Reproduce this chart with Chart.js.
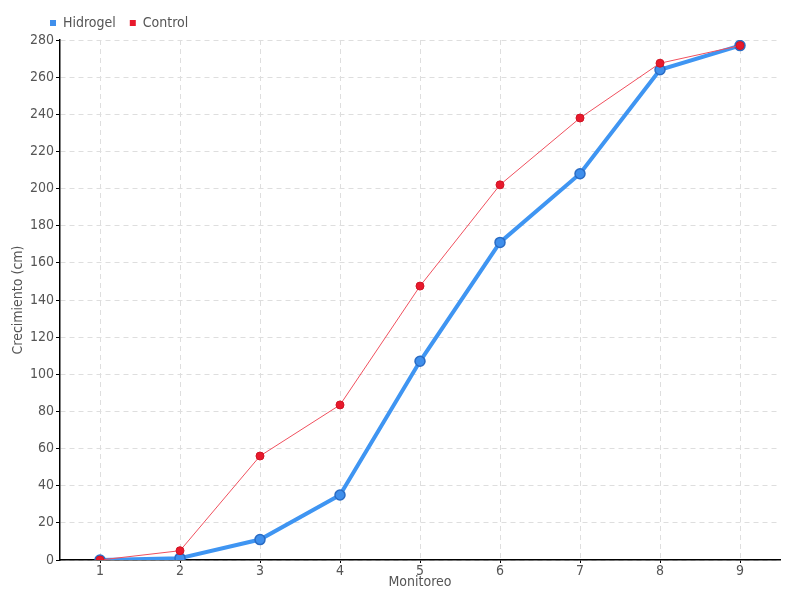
<!DOCTYPE html>
<html>
<head>
<meta charset="utf-8">
<script src="https://cdn.jsdelivr.net/npm/chart.js@4"></script>
<style>
html,body{margin:0;padding:0;background:#fff;}
#wrap{width:800px;height:600px;}
</style>
</head>
<body>
<div id="wrap"><canvas id="c" width="800" height="600"></canvas></div>
<script>
const categories = ['1','2','3','4','5','6','7','8','9'];
const hidrogel = [0, 1, 11, 35, 107, 171, 208, 264, 277];
const control = [0, 5, 56, 83.5, 147.5, 202, 238, 267.5, 277];
const seriesNames = ['Hidrogel', 'Control'];
const yTitle = 'Crecimiento (cm)';
const xTitle = 'Monitoreo';

const FONT = "'DejaVu Sans Condensed', 'Liberation Sans Narrow', sans-serif";

const shiftLegend = {
  id: 'shiftLegend',
  afterLayout(chart) {
    const lg = chart.legend;
    if (lg) { lg.left += 36; lg.right += 36; }
  }
};

new Chart(document.getElementById('c'), {
  type: 'line',
  data: {
    labels: categories,
    datasets: [
      {
        label: seriesNames[0],
        data: hidrogel,
        borderColor: '#3f95f2',
        backgroundColor: '#3f8fec',
        pointBorderColor: '#2a6cc4',
        pointBackgroundColor: '#3f8fec',
        borderWidth: 4,
        pointRadius: 5,
        pointBorderWidth: 1.5,
        tension: 0,
        order: 2
      },
      {
        label: seriesNames[1],
        data: control,
        borderColor: '#f0505e',
        backgroundColor: '#e8192c',
        pointBorderColor: '#d01424',
        pointBackgroundColor: '#e8192c',
        borderWidth: 1,
        pointRadius: 4,
        pointBorderWidth: 1,
        tension: 0,
        order: 1
      }
    ]
  },
  options: {
    responsive: false,
    animation: false,
    layout: { padding: { left: 0, right: 20, top: 2, bottom: 0 } },
    plugins: {
      legend: {
        position: 'top',
        align: 'start',
        labels: {
          usePointStyle: true,
          pointStyle: 'rect',
          boxWidth: 6,
          boxHeight: 6,
          padding: 14,
          color: '#555',
          font: { family: FONT, size: 14 },
          generateLabels(chart) {
            return chart.data.datasets.map((d, i) => ({
              text: d.label,
              fillStyle: d.backgroundColor,
              strokeStyle: d.backgroundColor,
              lineWidth: 0,
              pointStyle: 'rect',
              hidden: false,
              datasetIndex: i,
              fontColor: '#555'
            }));
          }
        }
      },
      tooltip: { enabled: false }
    },
    scales: {
      x: {
        offset: true,
        afterFit(s) { s.height = 40; },
        grid: {
          offset: false,
          color: '#dedede',
          tickColor: '#000',
          tickLength: 3,
          tickBorderDash: [],
          drawTicks: true
        },
        border: { display: true, color: '#000', width: 1.5, dash: [5, 4] },
        ticks: { color: '#555', font: { family: FONT, size: 14 }, padding: 0, maxRotation: 0 },
        title: { display: true, text: xTitle, color: '#555', font: { family: FONT, size: 14 }, padding: { top: 0, bottom: 9 } }
      },
      y: {
        min: 0,
        max: 280,
        afterFit(s) { s.width = 60; },
        grid: {
          color: '#dedede',
          tickColor: '#000',
          tickLength: 4,
          tickBorderDash: [],
          drawTicks: true
        },
        border: { display: true, color: '#000', width: 1.5, dash: [5, 4] },
        ticks: { stepSize: 20, color: '#555', font: { family: FONT, size: 14 }, padding: 2 },
        title: { display: true, text: yTitle, color: '#555', font: { family: FONT, size: 14 }, padding: { top: 10, bottom: 0 } }
      }
    }
  },
  plugins: [shiftLegend]
});
</script>
</body>
</html>
